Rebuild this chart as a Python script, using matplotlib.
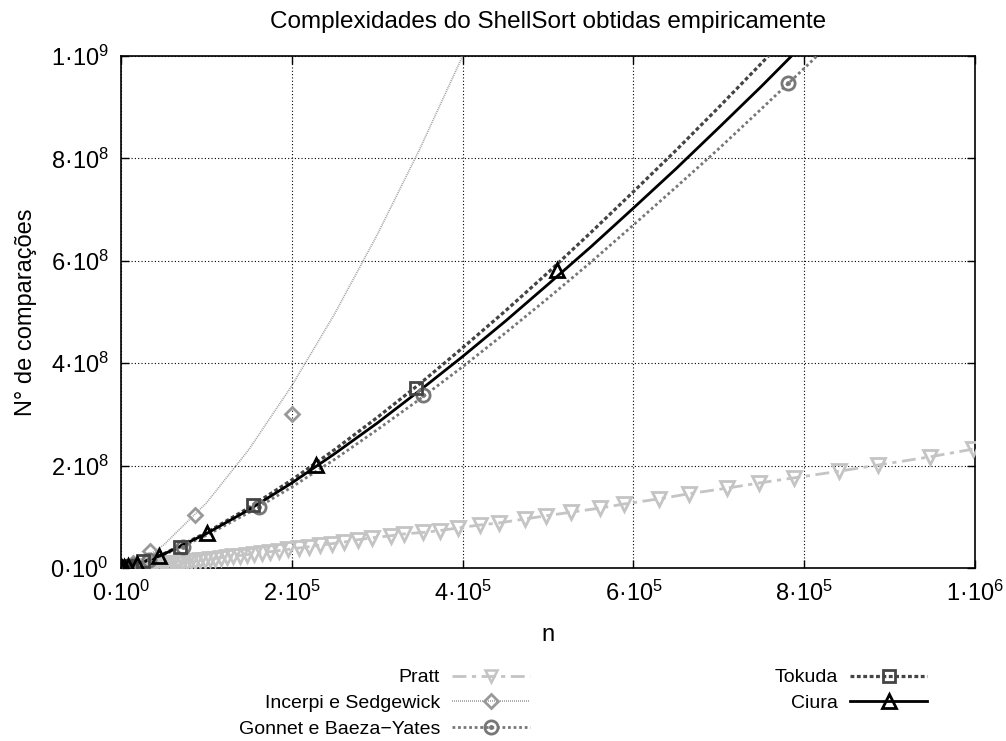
import matplotlib
matplotlib.use('Agg')
import matplotlib.pyplot as plt
from matplotlib.lines import Line2D
from matplotlib.legend_handler import HandlerTuple

plt.rcParams['font.family'] = ['Liberation Sans', 'DejaVu Sans']
plt.rcParams['mathtext.fontset'] = 'custom'
plt.rcParams['mathtext.rm'] = 'Liberation Sans'
plt.rcParams['mathtext.it'] = 'Liberation Sans:italic'

# Pratt (one marker per measured point)
pratt_n = [1000, 2000, 3000, 4500, 6000, 8000, 10000, 12000, 14000, 16000, 18000, 20000,
           23000, 26000, 29000, 32000, 36000, 40000, 44000, 48000, 52000, 56000, 60000,
           64000, 68000, 72000, 77000, 82000, 87000, 92000, 98000, 104000, 110000, 117000,
           124000, 131000, 139000, 147000, 156000, 165000, 175000, 185000, 196000, 208000,
           220000, 233000, 247000, 261000, 277000, 294000, 316000, 331000, 354000, 373000,
           394000, 420000, 442000, 473000, 498000, 527000, 561000, 589000, 630000, 665000,
           710000, 747000, 788000, 841000, 886000, 947000, 997000]
pratt_c = [6.0e4, 1.4e5, 2.4e5, 4.0e5, 5.7e5, 8.1e5, 1.06e6, 1.32e6, 1.59e6, 1.87e6, 2.16e6,
           2.45e6, 2.9e6, 3.36e6, 3.82e6, 4.3e6, 4.95e6, 5.61e6, 6.29e6, 6.96e6, 7.66e6,
           8.36e6, 9.07e6, 9.79e6, 1.05e7, 1.13e7, 1.22e7, 1.31e7, 1.41e7, 1.5e7, 1.62e7,
           1.73e7, 1.85e7, 1.99e7, 2.13e7, 2.27e7, 2.43e7, 2.6e7, 2.79e7, 2.97e7, 3.19e7,
           3.4e7, 3.63e7, 3.9e7, 4.16e7, 4.44e7, 4.75e7, 5.07e7, 5.5e7, 5.9e7, 6.3e7, 6.64e7,
           6.95e7, 7.3e7, 7.81e7, 8.4e7, 8.79e7, 9.57e7, 1.02e8, 1.09e8, 1.17e8, 1.25e8,
           1.35e8, 1.45e8, 1.56e8, 1.66e8, 1.76e8, 1.89e8, 2.01e8, 2.17e8, 2.32e8]

# fitted curves are read at these n values
fit_n = [0, 10000, 25000, 50000, 100000, 150000, 200000, 250000, 300000, 350000, 400000,
         450000, 500000, 550000, 600000, 650000, 700000, 750000, 800000, 850000]

# Incerpi e Sedgewick: fitted curve + measured points
incerpi_fit_c = [0, 4.1e6, 1.61e7, 4.51e7, 1.27e8, 2.32e8, 3.56e8, 4.96e8, 6.51e8, 8.19e8, 1.0e9]
incerpi_n = [2500, 6000, 14000, 34000, 87000, 200000]
incerpi_c = [8.0e5, 2.5e6, 1.0e7, 3.3e7, 1.03e8, 3.0e8]

# Gonnet e Baeza-Yates
gonnet_fit_c = [0, 3.1e6, 1.03e7, 2.56e7, 6.37e7, 1.084e8, 1.58e8, 2.12e8, 2.7e8, 3.3e8,
                3.93e8, 4.59e8, 5.27e8, 5.97e8, 6.7e8, 7.44e8, 8.19e8, 8.97e8, 9.76e8, 1.057e9]
gonnet_n = [2900, 6500, 15000, 33000, 73000, 161000, 354000, 781000]
gonnet_c = [8.0e5, 2.0e6, 5.5e6, 1.5e7, 4.1e7, 1.19e8, 3.38e8, 9.47e8]

# Tokuda
tokuda_fit_c = [0, 3.3e6, 1.11e7, 2.76e7, 6.9e7, 1.18e8, 1.72e8, 2.31e8, 2.94e8, 3.6e8,
                4.3e8, 5.02e8, 5.77e8, 6.55e8, 7.35e8, 8.16e8, 9.0e8, 9.86e8, 1.074e9]
tokuda_n = [2400, 5400, 12000, 26000, 69000, 155000, 345000]
tokuda_c = [6.0e5, 1.6e6, 4.2e6, 1.3e7, 4.1e7, 1.23e8, 3.52e8]

# Ciura
ciura_fit_c = [0, 3.28e6, 1.09e7, 2.7e7, 6.71e7, 1.14e8, 1.66e8, 2.23e8, 2.83e8, 3.47e8,
               4.13e8, 4.82e8, 5.54e8, 6.27e8, 7.03e8, 7.8e8, 8.6e8, 9.41e8, 1.025e9]
ciura_n = [300, 750, 1700, 3800, 8500, 19000, 45000, 101000, 228000, 511000]
ciura_c = [6.0e4, 1.7e5, 4.5e5, 1.2e6, 3.3e6, 8.5e6, 2.3e7, 6.8e7, 2.01e8, 5.82e8]

x_ticks = [0, 2e5, 4e5, 6e5, 8e5, 1e6]
x_labels = [r'$0·10^{0}$', r'$2·10^{5}$', r'$4·10^{5}$', r'$6·10^{5}$', r'$8·10^{5}$', r'$1·10^{6}$']
y_ticks = [0, 2e8, 4e8, 6e8, 8e8, 1e9]
y_labels = [r'$0·10^{0}$', r'$2·10^{8}$', r'$4·10^{8}$', r'$6·10^{8}$', r'$8·10^{8}$', r'$1·10^{9}$']

fig = plt.figure(figsize=(10.06, 7.41), dpi=100)
ax = fig.add_axes([0.1203, 0.2335, 0.849, 0.691])

c_pratt, c_inc, c_gon, c_tok, c_ciu = '#c4c4c4', '#a0a0a0', '#777777', '#444444', '#000000'
ls_pratt = (0, (5, 2, 1.5, 2))
ls_inc = (0, (0.6, 0.6))
ls_gon = (0, (1, 1))
ls_tok = (0, (1.2, 0.8))

ax.plot(pratt_n, pratt_c, color=c_pratt, lw=2, ls=ls_pratt,
        marker='v', ms=10, mfc='none', mec=c_pratt, mew=2, zorder=3)
ax.plot(fit_n[:len(incerpi_fit_c)], incerpi_fit_c, color=c_inc, lw=1.2, ls=ls_inc, zorder=3)
ax.plot(incerpi_n, incerpi_c, ls='none', marker='D', ms=7, mfc='none', mec='#999999', mew=2, zorder=4)
ax.plot(fit_n[:len(gonnet_fit_c)], gonnet_fit_c, color=c_gon, lw=2, ls=ls_gon, zorder=3)
ax.plot(gonnet_n, gonnet_c, ls='none', marker='o', ms=9.5, mfc='none', mec=c_gon, mew=2, zorder=4)
ax.plot(gonnet_n, gonnet_c, ls='none', marker='o', ms=2.5, color=c_gon, zorder=4)
ax.plot(fit_n[:len(tokuda_fit_c)], tokuda_fit_c, color=c_tok, lw=2.3, ls=ls_tok, zorder=3)
ax.plot(tokuda_n, tokuda_c, ls='none', marker='s', ms=9, mfc='none', mec=c_tok, mew=2, zorder=4)
ax.plot(fit_n[:len(ciura_fit_c)], ciura_fit_c, color=c_ciu, lw=2, ls='-', zorder=3)
ax.plot(ciura_n, ciura_c, ls='none', marker='^', ms=10, mfc='none', mec=c_ciu, mew=2, zorder=4)

ax.set_xlim(0, 1e6)
ax.set_ylim(0, 1e9)
ax.set_xticks(x_ticks, x_labels)
ax.set_yticks(y_ticks, y_labels)
ax.tick_params(direction='in', length=6, width=1, labelsize=17, pad=9, top=True, right=True)
ax.grid(True, color='black', ls=(0, (1, 2)), lw=0.8)
for s in ax.spines.values():
    s.set_linewidth(1.2)

ax.set_title('Complexidades do ShellSort obtidas empiricamente', fontsize=17.5, pad=20)
ax.set_xlabel('n', fontsize=17, labelpad=13)
ax.set_ylabel('N° de comparações', fontsize=17, labelpad=10)

h_pratt = Line2D([], [], color=c_pratt, lw=2, ls=ls_pratt, marker='v', ms=9,
                 mfc='none', mec=c_pratt, mew=1.8)
h_inc = Line2D([], [], color=c_inc, lw=1.2, ls=ls_inc, marker='D', ms=7,
               mfc='none', mec='#999999', mew=2)
h_gon = (Line2D([], [], color=c_gon, lw=2, ls=ls_gon, marker='o', ms=9.5, mfc='none',
                mec=c_gon, mew=2),
         Line2D([], [], ls='none', marker='o', ms=2.5, color=c_gon))
h_tok = Line2D([], [], color=c_tok, lw=2.3, ls=ls_tok, marker='s', ms=9,
               mfc='none', mec=c_tok, mew=2)
h_ciu = Line2D([], [], color=c_ciu, lw=2, marker='^', ms=10, mfc='none', mec=c_ciu, mew=2)

fig.legend([h_pratt, h_inc, h_gon, h_tok, h_ciu],
           ['Pratt', 'Incerpi e Sedgewick', 'Gonnet e Baeza\u2212Yates', 'Tokuda', 'Ciura'],
           ncol=2, markerfirst=False, frameon=False, fontsize=14,
           handlelength=4.0, handletextpad=0.6, columnspacing=12.6, labelspacing=0.42,
           loc='upper left', bbox_to_anchor=(0.22, 0.121),
           handler_map={tuple: HandlerTuple(ndivide=1)})

fig.savefig('out.png', dpi=100)
